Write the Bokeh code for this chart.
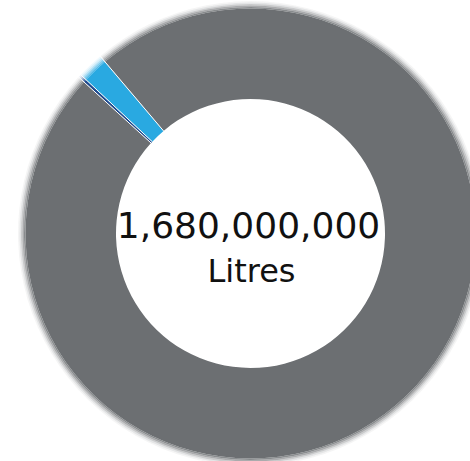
import numpy as np
from bokeh.plotting import figure
from bokeh.models import ColumnDataSource, Range1d
from bokeh.core.properties import value
from bokeh.embed import file_html
from bokeh.resources import INLINE

# ---- data ----
categories = ["Category A", "Category B", "Category C"]
volumes = [3_600_000, 31_000_000, 1_645_400_000]
colors = ["#1f4a8e", "#29a9e1", "#6c6f72"]
total_label = "1,680,000,000"
unit_label = "Litres"

W, H = 470, 461
p = figure(width=W, height=H, x_range=Range1d(0, W), y_range=Range1d(0, H),
           output_backend="svg", toolbar_location=None, min_border=0)
p.axis.visible = False
p.grid.visible = False
p.outline_line_color = None
p.background_fill_color = "white"
p.border_fill_color = "white"

cx, cy = 250, 228
r_in, r_out = 134.5, 225
start = np.deg2rad(137.7)

vals = np.array(volumes, dtype=float)
frac = vals / vals.sum()
cum = np.concatenate([[0], np.cumsum(frac)]) * 2 * np.pi
starts = start - cum[1:]
ends = start - cum[:-1]

src = ColumnDataSource(dict(cat=categories, s=starts, e=ends, color=colors))

# soft outer fade
fade = [(225, 226.5, 0.8), (226.5, 228, 0.58), (228, 229.5, 0.36), (229.5, 231, 0.18), (231, 232.5, 0.07)]
for a, b, al in fade:
    p.annular_wedge(x=cx, y=cy, inner_radius=a, outer_radius=b, start_angle="s", end_angle="e",
                    color="color", fill_alpha=al, line_alpha=0, source=src)

p.annular_wedge(x=cx, y=cy, inner_radius=r_in, outer_radius=r_out, start_angle="s", end_angle="e",
                fill_color="color", line_color=None, source=src)

# white separators at slice boundaries
b_ang = ends
p.segment(x0=cx + r_in * np.cos(b_ang), y0=cy + r_in * np.sin(b_ang),
          x1=cx + (r_out + 8) * np.cos(b_ang), y1=cy + (r_out + 8) * np.sin(b_ang),
          line_color="white", line_width=1)

p.text(x=[cx - 2], y=[236.5], text=[total_label], text_align="center", text_baseline="alphabetic",
       text_font=value("DejaVu Sans"), text_font_size="36px", text_color="#111111")
p.text(x=[cx + 1], y=[191], text=[unit_label], text_align="center", text_baseline="alphabetic",
       text_font=value("DejaVu Sans"), text_font_size="32px", text_color="#111111")

open("out.html", "w").write(file_html(p, INLINE))
